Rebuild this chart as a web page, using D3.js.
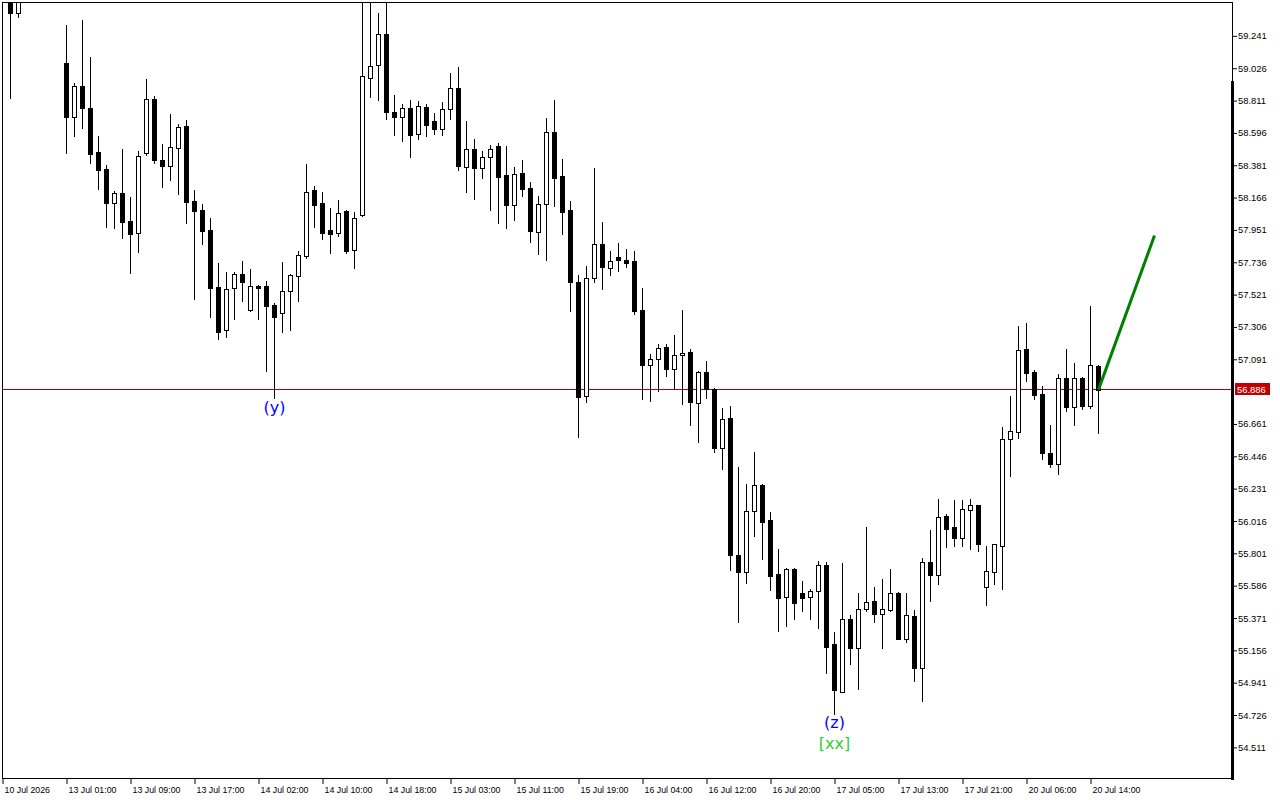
<!DOCTYPE html>
<html lang="en">
<head>
<meta charset="UTF-8">
<title>H1 candles</title>
<style>
  body { margin: 0; background: #fff; }
  svg { display: block; }
  .tick text { font-family: "Liberation Sans", Arial, sans-serif; font-size: 9.4px; fill: #000; }
  .xaxis .tick text { font-size: 8.8px; }
</style>
</head>
<body>
<svg id="chart"></svg>
<script src="https://d3js.org/d3.v7.min.js"></script>
<script>
// hourly bars, left to right
var open = [59.62, 59.58, 59.392, 59.55, 59.66, 59.74, 59.62, 59.57,
  59.055, 58.698, 58.902, 58.756, 58.464, 58.351, 58.127, 58.192, 58.006, 57.928,
  58.462, 58.821, 58.415, 58.373, 58.492, 58.637, 58.138, 58.079, 57.946, 57.567,
  57.280, 57.559, 57.652, 57.413, 57.574, 57.574, 57.450, 57.393, 57.539, 57.642,
  57.775, 58.211, 58.125, 57.946, 57.924, 58.072, 57.811, 58.046, 58.960, 59.046,
  59.252, 58.734, 58.698, 58.756, 58.585, 58.763, 58.670, 58.619, 58.754, 58.894,
  58.366, 58.489, 58.360, 58.435, 58.504, 58.311, 58.114, 58.324, 58.225, 57.935,
  58.117, 58.597, 58.305, 58.077, 57.601, 56.845, 57.625, 57.851, 57.692, 57.771,
  57.747, 57.740, 57.415, 57.051, 57.087, 57.167, 57.021, 57.114, 57.136, 56.795,
  57.003, 56.888, 56.500, 56.697, 55.787, 55.672, 56.081, 56.252, 56.020, 55.661,
  55.504, 55.694, 55.535, 55.504, 55.546, 55.721, 55.196, 54.879, 55.362, 55.165,
  55.427, 55.482, 55.397, 55.424, 55.535, 55.231, 55.382, 55.032, 55.741, 55.656,
  56.046, 55.971, 55.902, 56.088, 56.117, 55.577, 55.676, 55.849, 56.556, 56.606,
  57.153, 57.003, 56.857, 56.463, 56.394, 56.961, 56.772, 56.961, 56.779, 57.041];
var high = [59.70, 59.62, 59.58, 59.72, 59.78, 59.80, 59.70, 59.64,
  59.307, 58.924, 59.341, 59.095, 58.570, 58.378, 58.207, 58.489, 58.165, 58.473,
  58.949, 58.841, 58.522, 58.716, 58.650, 58.676, 58.211, 58.123, 58.024, 57.729,
  57.665, 57.669, 57.740, 57.687, 57.583, 57.609, 57.459, 57.733, 57.658, 57.808,
  58.384, 58.243, 58.200, 58.092, 58.145, 58.079, 58.065, 59.52, 59.50, 59.392,
  59.49, 58.847, 58.787, 58.809, 58.805, 58.787, 58.723, 58.801, 58.993, 59.029,
  58.675, 58.555, 58.471, 58.515, 58.524, 58.504, 58.364, 58.411, 58.265, 58.172,
  58.690, 58.809, 58.417, 58.143, 57.645, 57.707, 58.358, 57.999, 57.806, 57.864,
  57.824, 57.806, 57.561, 57.122, 57.189, 57.191, 57.248, 57.415, 57.155, 57.009,
  57.074, 56.896, 56.762, 56.777, 56.372, 56.259, 56.471, 56.259, 56.073, 55.827,
  55.703, 55.697, 55.617, 55.563, 55.747, 55.741, 55.276, 55.734, 55.389, 55.535,
  55.973, 55.575, 55.628, 55.694, 55.541, 55.535, 55.424, 55.769, 55.953, 56.159,
  56.060, 56.153, 56.153, 56.159, 56.119, 55.845, 55.860, 56.637, 56.843, 57.308,
  57.328, 57.016, 56.910, 56.651, 56.987, 57.153, 57.062, 56.969, 57.441, 57.049];
var low = [59.55, 58.825, 59.364, 59.50, 59.60, 59.58, 59.52, 59.49,
  58.459, 58.570, 58.625, 58.393, 58.220, 57.968, 57.961, 57.891, 57.662, 57.802,
  58.444, 58.393, 58.233, 58.278, 58.187, 57.994, 57.489, 57.857, 57.366, 57.224,
  57.237, 57.357, 57.476, 57.410, 57.357, 57.011, 56.828, 57.270, 57.282, 57.476,
  57.762, 57.968, 57.886, 57.795, 57.906, 57.795, 57.692, 58.039, 58.831, 58.814,
  58.688, 58.579, 58.539, 58.433, 58.552, 58.570, 58.585, 58.579, 58.685, 58.346,
  58.200, 58.154, 58.293, 58.079, 57.994, 57.961, 58.014, 58.174, 57.868, 57.788,
  57.745, 58.107, 57.921, 57.410, 56.569, 56.805, 57.602, 57.556, 57.649, 57.676,
  57.702, 57.390, 56.825, 56.812, 56.879, 56.978, 56.888, 56.788, 56.653, 56.536,
  56.828, 56.473, 56.360, 55.688, 55.344, 55.603, 55.915, 55.763, 55.557, 55.278,
  55.316, 55.364, 55.411, 55.364, 55.304, 54.999, 54.729, 54.877, 55.059, 54.899,
  55.413, 55.338, 55.165, 55.413, 55.226, 55.211, 54.946, 54.813, 55.484, 55.597,
  55.842, 55.847, 55.847, 55.829, 55.816, 55.457, 55.597, 55.563, 56.314, 56.566,
  56.945, 56.825, 56.427, 56.374, 56.327, 56.746, 56.653, 56.759, 56.766, 56.600];
var close = [59.58, 59.390, 59.55, 59.66, 59.74, 59.62, 59.57, 59.52,
  58.698, 58.902, 58.758, 58.453, 58.346, 58.127, 58.190, 58.001, 57.921, 58.442,
  58.821, 58.413, 58.373, 58.497, 58.630, 58.134, 58.074, 57.941, 57.563, 57.270,
  57.554, 57.652, 57.602, 57.574, 57.564, 57.443, 57.370, 57.541, 57.645, 57.778,
  58.203, 58.114, 57.928, 57.921, 58.063, 57.806, 58.024, 58.969, 59.040, 59.252,
  58.732, 58.698, 58.756, 58.579, 58.769, 58.645, 58.619, 58.754, 58.894, 58.371,
  58.489, 58.360, 58.435, 58.489, 58.300, 58.114, 58.322, 58.220, 57.941, 58.117,
  58.597, 58.293, 58.067, 57.602, 56.839, 57.627, 57.851, 57.698, 57.740, 57.749,
  57.731, 57.410, 57.051, 57.087, 57.160, 57.025, 57.114, 57.129, 56.801, 57.003,
  56.888, 56.500, 56.689, 55.789, 55.676, 56.079, 56.252, 56.008, 55.650, 55.502,
  55.694, 55.470, 55.502, 55.548, 55.721, 55.178, 54.886, 55.362, 55.165, 55.429,
  55.473, 55.397, 55.427, 55.535, 55.231, 55.389, 55.032, 55.741, 55.654, 56.038,
  55.962, 55.902, 56.091, 56.117, 55.862, 55.679, 55.858, 56.556, 56.609, 57.147,
  56.998, 56.852, 56.467, 56.394, 56.961, 56.772, 56.961, 56.779, 57.047, 56.886];

var priceTicks = [59.241, 59.026, 58.811, 58.596, 58.381, 58.166, 57.951, 57.736, 57.521, 57.306,
  57.091, 56.661, 56.446, 56.231, 56.016, 55.801, 55.586, 55.371, 55.156, 54.941, 54.726, 54.511];
var timeLabels = ["10 Jul 2026", "13 Jul 01:00", "13 Jul 09:00", "13 Jul 17:00", "14 Jul 02:00",
  "14 Jul 10:00", "14 Jul 18:00", "15 Jul 03:00", "15 Jul 11:00", "15 Jul 19:00", "16 Jul 04:00",
  "16 Jul 12:00", "16 Jul 20:00", "17 Jul 05:00", "17 Jul 13:00", "17 Jul 21:00", "20 Jul 06:00", "20 Jul 14:00"];
var timeLabelBars = [0, 8, 16, 24, 32, 40, 48, 56, 64, 72, 80, 88, 96, 104, 112, 120, 128, 136];

var lastPrice = 56.886;
var waveLabels = [{bar: 34, text: "(y)", color: "#0000ff", dy: 9},
                  {bar: 104, text: "(z)", color: "#0000ff", dy: 8},
                  {bar: 104, text: "[xx]", color: "#32cd32", dy: 29}];
var projection = [{bar: 137, price: 56.886}, {bar: 144, price: 57.91}];

var W = 1280, H = 800;
var plotL = 2, plotR = 1232, plotT = 2, plotB = 778;

var svg = d3.select('#chart').attr('width', W).attr('height', H);

var x = d3.scaleLinear().domain([0, (plotR - plotL) / 8]).range([plotL, plotR]);
var y = d3.scaleLinear().domain([54.304, 59.463]).range([plotB, plotT]);

svg.append('clipPath').attr('id', 'plot')
  .append('rect').attr('x', plotL).attr('y', plotT).attr('width', plotR - plotL).attr('height', plotB - plotT);

var plot = svg.append('g').attr('clip-path', 'url(#plot)');

// current price line
var py = Math.floor(y(lastPrice)) + 0.5;
plot.append('line').attr('x1', plotL).attr('x2', plotR).attr('y1', py).attr('y2', py)
  .attr('stroke', '#b00000').attr('stroke-width', 1);

var bars = open.map((o, i) => ({i: i, o: o, h: high[i], l: low[i], c: close[i]}));

var candle = plot.selectAll('g.candle').data(bars).enter().append('g').attr('class', 'candle');
candle.append('line')
  .attr('x1', d => Math.round(x(d.i)) + 0.5)
  .attr('x2', d => Math.round(x(d.i)) + 0.5)
  .attr('y1', d => Math.round(y(d.h)))
  .attr('y2', d => Math.round(y(d.l)) + 1)
  .attr('stroke', '#000').attr('stroke-width', 1);
candle.append('rect')
  .attr('x', d => Math.round(x(d.i)) - 1.5)
  .attr('width', 4)
  .attr('y', d => Math.round(y(Math.max(d.o, d.c))) + 0.5)
  .attr('height', d => Math.max(Math.round(y(Math.min(d.o, d.c))) - Math.round(y(Math.max(d.o, d.c))), 0.5))
  .attr('fill', d => d.c >= d.o ? '#fff' : '#000')
  .attr('stroke', '#000').attr('stroke-width', 1);

// projection line
plot.append('path').datum(projection)
  .attr('d', d3.line().x(d => x(d.bar) + 0.5).y(d => y(d.price)))
  .attr('stroke', '#008000').attr('stroke-width', 3).attr('fill', 'none');

// wave labels
plot.selectAll('text.wave').data(waveLabels).enter().append('text')
  .attr('class', 'wave')
  .attr('x', d => x(d.bar) + 0.5)
  .attr('y', d => y(low[d.bar]) + d.dy)
  .attr('text-anchor', 'middle')
  .attr('dominant-baseline', 'central')
  .attr('font-family', '"DejaVu Sans", sans-serif')
  .attr('font-size', 16)
  .attr('fill', d => d.color)
  .text(d => d.text);

// frame
svg.append('rect').attr('x', plotL + 0.5).attr('y', plotT + 0.5)
  .attr('width', plotR - plotL).attr('height', plotB - plotT)
  .attr('fill', 'none').attr('stroke', '#000').attr('stroke-width', 1);
svg.append('rect').attr('x', plotR - 1).attr('y', 81).attr('width', 3).attr('height', plotB - 81 + 2).attr('fill', '#000');

// price axis
var yAxis = svg.append('g').attr('transform', 'translate(' + (plotR + 1) + ',0.5)')
  .call(d3.axisRight(y).tickValues(priceTicks).tickFormat(d3.format('.3f')).tickSize(4).tickPadding(1));
yAxis.select('.domain').remove();

// last price tag
svg.append('rect').attr('x', plotR + 3).attr('y', py - 6.5).attr('width', 35).attr('height', 12).attr('fill', '#c00000');
svg.append('text').attr('x', plotR + 5).attr('y', py).attr('dominant-baseline', 'central')
  .attr('font-family', '"Liberation Sans", Arial, sans-serif').attr('font-size', 9.4).attr('fill', '#fff')
  .text(d3.format('.3f')(lastPrice));

// time axis
var xAxis = svg.append('g').attr('class', 'xaxis').attr('transform', 'translate(0.5,' + (plotB + 1) + ')')
  .call(d3.axisBottom(x).tickValues(timeLabelBars).tickFormat((d, i) => timeLabels[i]).tickSize(5).tickPadding(3));
xAxis.select('.domain').remove();
xAxis.selectAll('.tick text').attr('text-anchor', 'start').attr('dx', 1.5);
</script>
</body>
</html>
